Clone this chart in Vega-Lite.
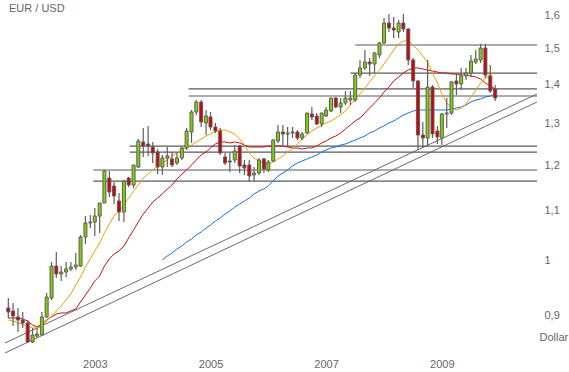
{
  "$schema": "https://vega.github.io/schema/vega-lite/v6.json",
  "width": 542,
  "height": 350,
  "autosize": {"type": "none"},
  "padding": {"left": 0, "top": 0, "right": 27, "bottom": 22},
  "background": "white",
  "title": {"text": "EUR / USD", "anchor": "start", "frame": "group", "offset": -14, "dx": 9, "font": "Liberation Sans", "fontSize": 11, "fontWeight": "normal", "color": "#666666"},
  "config": {"view": {"stroke": null}, "axis": {"grid": false, "domain": false, "ticks": false, "labelFont": "Liberation Sans", "labelFontSize": 11, "labelColor": "#666666", "titleFont": "Liberation Sans", "titleFontSize": 11, "titleFontWeight": "normal", "titleColor": "#666666"}},
  "datasets": {
    "tr": [
      {"d": "2001-08-11", "e": "2010-10-23", "y1": 0.8546, "y2": 1.3757},
      {"d": "2001-08-11", "e": "2010-10-23", "y1": 0.8384, "y2": 1.3549}
    ],
    "lv": [
      {"d": "2007-09-01", "e": "2010-10-23", "p": 1.5108},
      {"d": "2007-08-02", "e": "2010-10-23", "p": 1.4320},
      {"d": "2004-10-14", "e": "2010-10-23", "p": 1.3890},
      {"d": "2004-10-14", "e": "2010-10-23", "p": 1.3705},
      {"d": "2003-10-08", "e": "2010-10-23", "p": 1.2454},
      {"d": "2003-10-08", "e": "2010-10-23", "p": 1.2312},
      {"d": "2003-02-20", "e": "2010-10-23", "p": 1.1896},
      {"d": "2003-02-20", "e": "2010-10-23", "p": 1.1648}
    ],
    "c": [
      {"d":"2001-09-01","o":0.9137,"h":0.9314,"l":0.8964,"c":0.9068,"f":0.8930,"m":0.8964},
      {"d":"2001-10-01","o":0.9085,"h":0.9225,"l":0.8828,"c":0.8999,"f":0.8913,"m":0.8964},
      {"d":"2001-11-01","o":0.8982,"h":0.9137,"l":0.8727,"c":0.8930,"f":0.8879,"m":0.8964},
      {"d":"2001-12-01","o":0.8930,"h":0.9068,"l":0.8795,"c":0.8879,"f":0.8862,"m":0.8947},
      {"d":"2002-01-01","o":0.8879,"h":0.8930,"l":0.8546,"c":0.8562,"f":0.8828,"m":0.8913},
      {"d":"2002-02-01","o":0.8562,"h":0.8795,"l":0.8546,"c":0.8677,"f":0.8795,"m":0.8845},
      {"d":"2002-03-01","o":0.8661,"h":0.8795,"l":0.8628,"c":0.8694,"f":0.8795,"m":0.8812},
      {"d":"2002-04-01","o":0.8677,"h":0.9068,"l":0.8661,"c":0.8982,"f":0.8812,"m":0.8862},
      {"d":"2002-05-01","o":0.8982,"h":0.9403,"l":0.8964,"c":0.9331,"f":0.8913,"m":0.8930},
      {"d":"2002-06-01","o":0.9314,"h":0.9978,"l":0.9278,"c":0.9901,"f":0.8999,"m":0.8982},
      {"d":"2002-07-01","o":0.9901,"h":1.0170,"l":0.9677,"c":0.9751,"f":0.9085,"m":0.9033},
      {"d":"2002-08-01","o":0.9751,"h":0.9901,"l":0.9622,"c":0.9788,"f":0.9172,"m":0.9051},
      {"d":"2002-09-01","o":0.9788,"h":0.9978,"l":0.9695,"c":0.9845,"f":0.9278,"m":0.9051},
      {"d":"2002-10-01","o":0.9845,"h":0.9978,"l":0.9807,"c":0.9882,"f":0.9385,"m":0.9085},
      {"d":"2002-11-01","o":0.9882,"h":1.0151,"l":0.9826,"c":0.9920,"f":0.9548,"m":0.9120},
      {"d":"2002-12-01","o":0.9901,"h":1.0506,"l":0.9882,"c":1.0466,"f":0.9695,"m":0.9243},
      {"d":"2003-01-01","o":1.0466,"h":1.0894,"l":1.0327,"c":1.0750,"f":0.9882,"m":0.9367},
      {"d":"2003-02-01","o":1.0750,"h":1.0915,"l":1.0648,"c":1.0771,"f":1.0035,"m":0.9494},
      {"d":"2003-03-01","o":1.0771,"h":1.1062,"l":1.0486,"c":1.0894,"f":1.0190,"m":0.9622},
      {"d":"2003-04-01","o":1.0894,"h":1.1169,"l":1.0546,"c":1.1169,"f":1.0347,"m":0.9714},
      {"d":"2003-05-01","o":1.1169,"h":1.1896,"l":1.1169,"c":1.1873,"f":1.0546,"m":0.9901},
      {"d":"2003-06-01","o":1.1716,"h":1.1873,"l":1.1298,"c":1.1406,"f":1.0730,"m":1.0035},
      {"d":"2003-07-01","o":1.1538,"h":1.1627,"l":1.1147,"c":1.1320,"f":1.0894,"m":1.0131},
      {"d":"2003-08-01","o":1.1212,"h":1.1385,"l":1.0791,"c":1.0978,"f":1.0999,"m":1.0190},
      {"d":"2003-09-01","o":1.0978,"h":1.1671,"l":1.0771,"c":1.1649,"f":1.1126,"m":1.0287},
      {"d":"2003-10-01","o":1.1716,"h":1.1738,"l":1.1516,"c":1.1560,"f":1.1276,"m":1.0446},
      {"d":"2003-11-01","o":1.1560,"h":1.2011,"l":1.1494,"c":1.2011,"f":1.1428,"m":1.0607},
      {"d":"2003-12-01","o":1.1965,"h":1.2623,"l":1.1942,"c":1.2575,"f":1.1560,"m":1.0771},
      {"d":"2004-01-01","o":1.2551,"h":1.2892,"l":1.2196,"c":1.2455,"f":1.1716,"m":1.0936},
      {"d":"2004-02-01","o":1.2503,"h":1.2941,"l":1.2220,"c":1.2455,"f":1.1806,"m":1.1062},
      {"d":"2004-03-01","o":1.2431,"h":1.2551,"l":1.2057,"c":1.2290,"f":1.1896,"m":1.1190},
      {"d":"2004-04-01","o":1.2313,"h":1.2384,"l":1.1806,"c":1.1965,"f":1.1988,"m":1.1276},
      {"d":"2004-05-01","o":1.1965,"h":1.2243,"l":1.1783,"c":1.2173,"f":1.2057,"m":1.1363,"s":1.0016},
      {"d":"2004-06-01","o":1.2173,"h":1.2431,"l":1.1965,"c":1.2220,"f":1.2126,"m":1.1472,"s":1.0093},
      {"d":"2004-07-01","o":1.2150,"h":1.2313,"l":1.1965,"c":1.2011,"f":1.2220,"m":1.1560,"s":1.0151},
      {"d":"2004-08-01","o":1.2057,"h":1.2313,"l":1.2011,"c":1.2173,"f":1.2290,"m":1.1693,"s":1.0229},
      {"d":"2004-09-01","o":1.2173,"h":1.2431,"l":1.2126,"c":1.2408,"f":1.2360,"m":1.1806,"s":1.0287},
      {"d":"2004-10-01","o":1.2408,"h":1.2892,"l":1.2360,"c":1.2818,"f":1.2431,"m":1.1896,"s":1.0366},
      {"d":"2004-11-01","o":1.2793,"h":1.3343,"l":1.2527,"c":1.3292,"f":1.2479,"m":1.2011,"s":1.0426},
      {"d":"2004-12-01","o":1.3292,"h":1.3600,"l":1.3216,"c":1.3548,"f":1.2551,"m":1.2126,"s":1.0506},
      {"d":"2005-01-01","o":1.3548,"h":1.3600,"l":1.2916,"c":1.3040,"f":1.2623,"m":1.2243,"s":1.0566},
      {"d":"2005-02-01","o":1.3016,"h":1.3343,"l":1.2720,"c":1.3191,"f":1.2696,"m":1.2313,"s":1.0648},
      {"d":"2005-03-01","o":1.3166,"h":1.3292,"l":1.2842,"c":1.2916,"f":1.2744,"m":1.2408,"s":1.0709},
      {"d":"2005-04-01","o":1.2916,"h":1.3016,"l":1.2769,"c":1.2818,"f":1.2793,"m":1.2503,"s":1.0791},
      {"d":"2005-05-01","o":1.2818,"h":1.2892,"l":1.2243,"c":1.2290,"f":1.2842,"m":1.2551,"s":1.0853},
      {"d":"2005-06-01","o":1.2196,"h":1.2290,"l":1.2011,"c":1.2057,"f":1.2842,"m":1.2551,"s":1.0936},
      {"d":"2005-07-01","o":1.2103,"h":1.2290,"l":1.1851,"c":1.2080,"f":1.2793,"m":1.2527,"s":1.0999},
      {"d":"2005-08-01","o":1.2126,"h":1.2479,"l":1.2057,"c":1.2337,"f":1.2744,"m":1.2551,"s":1.1083},
      {"d":"2005-09-01","o":1.2455,"h":1.2479,"l":1.1828,"c":1.1988,"f":1.2623,"m":1.2527,"s":1.1147},
      {"d":"2005-10-01","o":1.2011,"h":1.2126,"l":1.1783,"c":1.1942,"f":1.2479,"m":1.2479,"s":1.1212},
      {"d":"2005-11-01","o":1.2011,"h":1.2126,"l":1.1649,"c":1.1761,"f":1.2290,"m":1.2431,"s":1.1276},
      {"d":"2005-12-01","o":1.1783,"h":1.1965,"l":1.1649,"c":1.1828,"f":1.2173,"m":1.2431,"s":1.1363},
      {"d":"2006-01-01","o":1.1828,"h":1.2173,"l":1.1783,"c":1.2126,"f":1.2103,"m":1.2431,"s":1.1428},
      {"d":"2006-02-01","o":1.2150,"h":1.2173,"l":1.1828,"c":1.1919,"f":1.2057,"m":1.2431,"s":1.1472},
      {"d":"2006-03-01","o":1.1896,"h":1.2126,"l":1.1851,"c":1.2080,"f":1.2034,"m":1.2455,"s":1.1538},
      {"d":"2006-04-01","o":1.2103,"h":1.2623,"l":1.2080,"c":1.2599,"f":1.2080,"m":1.2455,"s":1.1649},
      {"d":"2006-05-01","o":1.2575,"h":1.2966,"l":1.2527,"c":1.2793,"f":1.2150,"m":1.2455,"s":1.1761},
      {"d":"2006-06-01","o":1.2793,"h":1.2966,"l":1.2479,"c":1.2744,"f":1.2220,"m":1.2455,"s":1.1828},
      {"d":"2006-07-01","o":1.2744,"h":1.2916,"l":1.2431,"c":1.2769,"f":1.2313,"m":1.2431,"s":1.1896},
      {"d":"2006-08-01","o":1.2769,"h":1.2916,"l":1.2647,"c":1.2793,"f":1.2384,"m":1.2408,"s":1.1988},
      {"d":"2006-09-01","o":1.2793,"h":1.2842,"l":1.2599,"c":1.2647,"f":1.2503,"m":1.2408,"s":1.2057},
      {"d":"2006-10-01","o":1.2647,"h":1.2793,"l":1.2599,"c":1.2744,"f":1.2623,"m":1.2384,"s":1.2103},
      {"d":"2006-11-01","o":1.2769,"h":1.3267,"l":1.2744,"c":1.3267,"f":1.2720,"m":1.2408,"s":1.2150},
      {"d":"2006-12-01","o":1.3241,"h":1.3420,"l":1.3090,"c":1.3166,"f":1.2818,"m":1.2408,"s":1.2196},
      {"d":"2007-01-01","o":1.3191,"h":1.3267,"l":1.2966,"c":1.2991,"f":1.2892,"m":1.2455,"s":1.2243},
      {"d":"2007-02-01","o":1.2991,"h":1.3267,"l":1.2916,"c":1.3267,"f":1.2966,"m":1.2527,"s":1.2313},
      {"d":"2007-03-01","o":1.3191,"h":1.3420,"l":1.3166,"c":1.3343,"f":1.3016,"m":1.2575,"s":1.2360},
      {"d":"2007-04-01","o":1.3318,"h":1.3652,"l":1.3292,"c":1.3652,"f":1.3065,"m":1.2647,"s":1.2408},
      {"d":"2007-05-01","o":1.3652,"h":1.3679,"l":1.3394,"c":1.3420,"f":1.3140,"m":1.2696,"s":1.2431},
      {"d":"2007-06-01","o":1.3420,"h":1.3652,"l":1.3267,"c":1.3523,"f":1.3216,"m":1.2769,"s":1.2479},
      {"d":"2007-07-01","o":1.3523,"h":1.3837,"l":1.3471,"c":1.3652,"f":1.3318,"m":1.2867,"s":1.2503},
      {"d":"2007-08-01","o":1.3600,"h":1.3837,"l":1.3471,"c":1.3652,"f":1.3471,"m":1.2966,"s":1.2551},
      {"d":"2007-09-01","o":1.3600,"h":1.4321,"l":1.3548,"c":1.4266,"f":1.3626,"m":1.3065,"s":1.2599},
      {"d":"2007-10-01","o":1.4266,"h":1.4681,"l":1.4185,"c":1.4459,"f":1.3757,"m":1.3140,"s":1.2647},
      {"d":"2007-11-01","o":1.4459,"h":1.4965,"l":1.4403,"c":1.4625,"f":1.3916,"m":1.3267,"s":1.2696},
      {"d":"2007-12-01","o":1.4625,"h":1.4737,"l":1.4239,"c":1.4570,"f":1.4077,"m":1.3394,"s":1.2769},
      {"d":"2008-01-01","o":1.4570,"h":1.4908,"l":1.4321,"c":1.4879,"f":1.4239,"m":1.3523,"s":1.2818},
      {"d":"2008-02-01","o":1.4822,"h":1.5195,"l":1.4737,"c":1.5166,"f":1.4403,"m":1.3652,"s":1.2892},
      {"d":"2008-03-01","o":1.5166,"h":1.5909,"l":1.5137,"c":1.5757,"f":1.4570,"m":1.3810,"s":1.2941},
      {"d":"2008-04-01","o":1.5757,"h":1.6031,"l":1.5489,"c":1.5608,"f":1.4766,"m":1.3943,"s":1.3016},
      {"d":"2008-05-01","o":1.5608,"h":1.5939,"l":1.5312,"c":1.5548,"f":1.4965,"m":1.4104,"s":1.3065},
      {"d":"2008-06-01","o":1.5489,"h":1.5848,"l":1.5312,"c":1.5757,"f":1.5137,"m":1.4212,"s":1.3140},
      {"d":"2008-07-01","o":1.5757,"h":1.6031,"l":1.5489,"c":1.5578,"f":1.5224,"m":1.4321,"s":1.3216},
      {"d":"2008-08-01","o":1.5578,"h":1.5608,"l":1.4542,"c":1.4681,"f":1.5224,"m":1.4403,"s":1.3267},
      {"d":"2008-09-01","o":1.4681,"h":1.4737,"l":1.3916,"c":1.4104,"f":1.5108,"m":1.4459,"s":1.3318},
      {"d":"2008-10-01","o":1.4104,"h":1.4131,"l":1.2360,"c":1.2720,"f":1.4965,"m":1.4459,"s":1.3343},
      {"d":"2008-11-01","o":1.2720,"h":1.3040,"l":1.2408,"c":1.2647,"f":1.4794,"m":1.4431,"s":1.3343},
      {"d":"2008-12-01","o":1.2647,"h":1.4681,"l":1.2455,"c":1.3943,"f":1.4625,"m":1.4403,"s":1.3343},
      {"d":"2009-01-01","o":1.3943,"h":1.3996,"l":1.2647,"c":1.2744,"f":1.4321,"m":1.4376,"s":1.3343},
      {"d":"2009-02-01","o":1.2818,"h":1.2941,"l":1.2503,"c":1.2672,"f":1.4050,"m":1.4348,"s":1.3343},
      {"d":"2009-03-01","o":1.2647,"h":1.3267,"l":1.2479,"c":1.3241,"f":1.3757,"m":1.4321,"s":1.3343},
      {"d":"2009-04-01","o":1.3241,"h":1.3652,"l":1.2892,"c":1.3267,"f":1.3523,"m":1.4321,"s":1.3343},
      {"d":"2009-05-01","o":1.3267,"h":1.4104,"l":1.3216,"c":1.4077,"f":1.3394,"m":1.4293,"s":1.3369},
      {"d":"2009-06-01","o":1.4104,"h":1.4321,"l":1.3731,"c":1.4023,"f":1.3343,"m":1.4293,"s":1.3394},
      {"d":"2009-07-01","o":1.4023,"h":1.4459,"l":1.3863,"c":1.4239,"f":1.3394,"m":1.4266,"s":1.3420},
      {"d":"2009-08-01","o":1.4239,"h":1.4459,"l":1.4131,"c":1.4321,"f":1.3497,"m":1.4266,"s":1.3471},
      {"d":"2009-09-01","o":1.4321,"h":1.4822,"l":1.4212,"c":1.4653,"f":1.3679,"m":1.4239,"s":1.3548},
      {"d":"2009-10-01","o":1.4625,"h":1.4965,"l":1.4570,"c":1.4709,"f":1.3863,"m":1.4212,"s":1.3600},
      {"d":"2009-11-01","o":1.4681,"h":1.5137,"l":1.4598,"c":1.5022,"f":1.4050,"m":1.4158,"s":1.3626},
      {"d":"2009-12-01","o":1.5022,"h":1.5137,"l":1.4185,"c":1.4266,"f":1.4185,"m":1.4050,"s":1.3679},
      {"d":"2010-01-01","o":1.4239,"h":1.4542,"l":1.3784,"c":1.3837,"f":1.4266,"m":1.3970,"s":1.3705},
      {"d":"2010-02-01","o":1.3890,"h":1.3996,"l":1.3574,"c":1.3652,"f":1.4348,"m":1.3890,"s":1.3757}
    ]
  },
  "encoding": {
    "x": {"field": "d", "type": "temporal", "title": null,
      "scale": {"domain": [{"year": 2001, "month": 8, "date": 11}, {"year": 2010, "month": 10, "date": 23}], "nice": false},
      "axis": {"orient": "bottom", "format": "%Y", "labelPadding": 8, "labelFlush": false, "labelOverlap": false,
        "values": [{"year": 2003, "month": 3, "date": 1}, {"year": 2005, "month": 3, "date": 1}, {"year": 2007, "month": 3, "date": 1}, {"year": 2009, "month": 3, "date": 1}]}}
  },
  "layer": [
    {
      "data": {"name": "tr"},
      "mark": {"type": "rule", "color": "#6a6a6a", "strokeWidth": 1},
      "encoding": {
        "x2": {"field": "e"},
        "y": {"field": "y1", "type": "quantitative",
          "scale": {"type": "log", "domain": [0.8432, 1.6466], "nice": false, "zero": false},
          "axis": {"orient": "right", "title": "Dollar", "values": [0.9, 1, 1.1, 1.2, 1.3, 1.4, 1.5, 1.6], "format": ".1~f", "labelExpr": "replace(datum.label, '.', ',')", "labelPadding": 2, "labelBaseline": "middle", "titleAngle": 0, "titleAlign": "left", "titleBaseline": "middle", "titleX": -3, "titleY": 337}},
        "y2": {"field": "y2"}
      }
    },
    {
      "data": {"name": "lv"},
      "mark": {"type": "rule", "color": "#5a5a5a", "strokeWidth": 1.2},
      "encoding": {
        "x2": {"field": "e"},
        "y": {"field": "p", "type": "quantitative", "title": "Dollar"}
      }
    },
    {
      "data": {"name": "c"},
      "transform": [{"filter": "isValid(datum.s)"}],
      "mark": {"type": "line", "color": "#1a6fe8", "strokeWidth": 1},
      "encoding": {"y": {"field": "s", "type": "quantitative", "title": "Dollar"}}
    },
    {
      "data": {"name": "c"},
      "mark": {"type": "line", "color": "#cc1010", "strokeWidth": 1},
      "encoding": {"y": {"field": "m", "type": "quantitative", "title": "Dollar"}}
    },
    {
      "data": {"name": "c"},
      "mark": {"type": "line", "color": "#f0a000", "strokeWidth": 1},
      "encoding": {"y": {"field": "f", "type": "quantitative", "title": "Dollar"}}
    },
    {
      "data": {"name": "c"},
      "mark": {"type": "rule", "color": "#5e5e5e", "strokeWidth": 1.2},
      "encoding": {"y": {"field": "l", "type": "quantitative", "title": "Dollar"}, "y2": {"field": "h"}}
    },
    {
      "data": {"name": "c"},
      "mark": {"type": "bar", "width": 3, "stroke": "#5e5e5e", "strokeWidth": 1, "orient": "vertical"},
      "encoding": {
        "y": {"field": "o", "type": "quantitative", "title": "Dollar"},
        "y2": {"field": "c"},
        "color": {"condition": {"test": "datum.c < datum.o", "value": "#d40000"}, "value": "#7fd000"}
      }
    }
  ]
}
